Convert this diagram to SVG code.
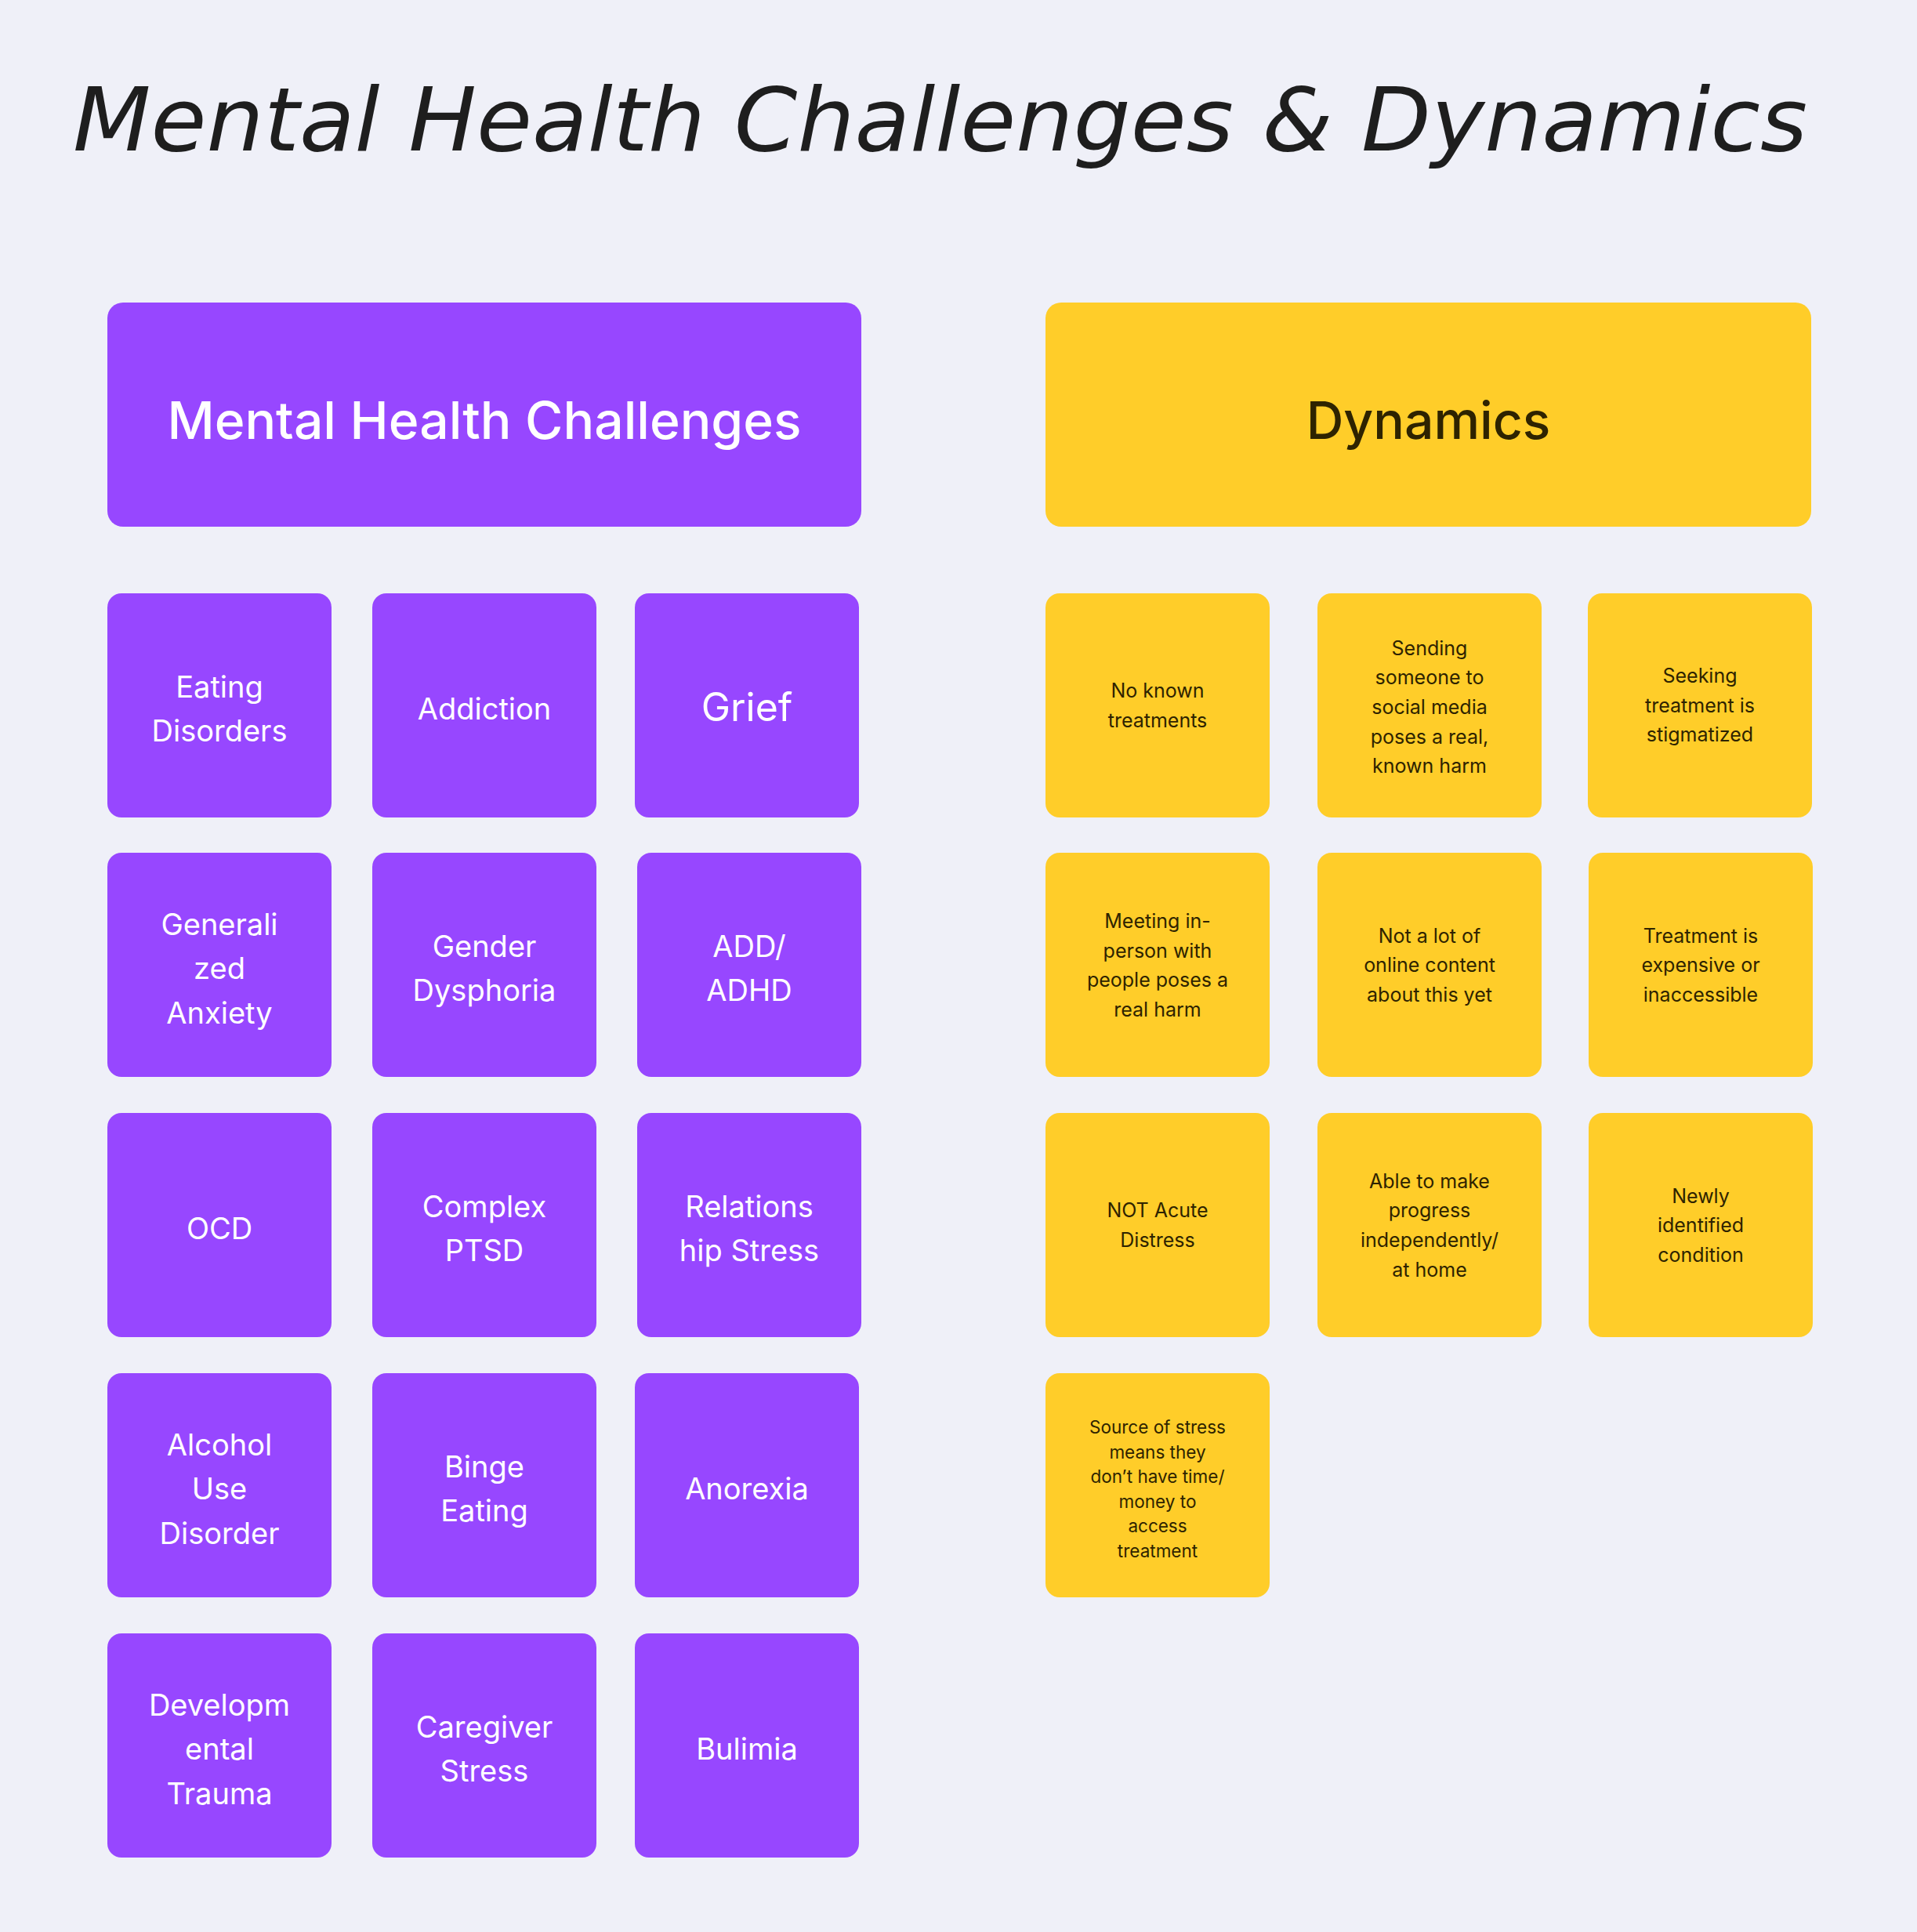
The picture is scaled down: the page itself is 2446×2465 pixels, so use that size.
<svg xmlns="http://www.w3.org/2000/svg" width="2446" height="2465" viewBox="0 0 2446 2465">
<style>
.bg{fill:#EFF0F8}
.p{fill:#9747FF}
.y{fill:#FFCD29}
.pt{font-family:Inter,"Liberation Sans",sans-serif;font-size:38px;fill:#FFFFFF;text-anchor:middle}
.yt{font-family:Inter,"Liberation Sans",sans-serif;font-size:25px;fill:#2E2300;text-anchor:middle}
.ys{font-family:Inter,"Liberation Sans",sans-serif;font-size:22.5px;fill:#2E2300;text-anchor:middle}
.h{font-family:Inter,"Liberation Sans",sans-serif;font-size:66px;font-weight:500;text-anchor:middle}
.title{font-family:"DejaVu Sans",sans-serif;font-style:oblique;font-size:112px;fill:#1E1E1E}
</style>
<rect class="bg" x="0" y="0" width="2446" height="2465"/>
<text class="title" x="93" y="192" textLength="2213" lengthAdjust="spacingAndGlyphs">Mental Health Challenges &amp; Dynamics</text>

<g id="header-challenges"><rect class="p" x="137" y="386" width="962" height="286" rx="20"/><text class="h" x="618" y="560" fill="#FFFFFF">Mental Health Challenges</text></g>
<g id="header-dynamics"><rect class="y" x="1334" y="386" width="977" height="286" rx="20"/><text class="h" x="1822.5" y="560" fill="#2E2300">Dynamics</text></g>

<g id="eating-disorders"><rect class="p" x="137" y="757" width="286" height="286" rx="18"/><text class="pt" x="280" y="889.5">Eating</text><text class="pt" x="280" y="946">Disorders</text></g>
<g id="addiction"><rect class="p" x="475" y="757" width="286" height="286" rx="18"/><text class="pt" x="618" y="917.5">Addiction</text></g>
<g id="grief"><rect class="p" x="810" y="757" width="286" height="286" rx="18"/><text class="pt" x="953" y="920" style="font-size:50px">Grief</text></g>

<g id="generalized-anxiety"><rect class="p" x="137" y="1088" width="286" height="286" rx="18"/><text class="pt" x="280" y="1192.5">Generali</text><text class="pt" x="280" y="1249">zed</text><text class="pt" x="280" y="1305.5">Anxiety</text></g>
<g id="gender-dysphoria"><rect class="p" x="475" y="1088" width="286" height="286" rx="18"/><text class="pt" x="618" y="1220.5">Gender</text><text class="pt" x="618" y="1277">Dysphoria</text></g>
<g id="add-adhd"><rect class="p" x="813" y="1088" width="286" height="286" rx="18"/><text class="pt" x="956" y="1220.5">ADD/</text><text class="pt" x="956" y="1277">ADHD</text></g>

<g id="ocd"><rect class="p" x="137" y="1420" width="286" height="286" rx="18"/><text class="pt" x="280" y="1580.5">OCD</text></g>
<g id="complex-ptsd"><rect class="p" x="475" y="1420" width="286" height="286" rx="18"/><text class="pt" x="618" y="1552.5">Complex</text><text class="pt" x="618" y="1609">PTSD</text></g>
<g id="relationship-stress"><rect class="p" x="813" y="1420" width="286" height="286" rx="18"/><text class="pt" x="956" y="1552.5">Relations</text><text class="pt" x="956" y="1609">hip Stress</text></g>

<g id="alcohol-use-disorder"><rect class="p" x="137" y="1752" width="286" height="286" rx="18"/><text class="pt" x="280" y="1856.5">Alcohol</text><text class="pt" x="280" y="1913">Use</text><text class="pt" x="280" y="1969.5">Disorder</text></g>
<g id="binge-eating"><rect class="p" x="475" y="1752" width="286" height="286" rx="18"/><text class="pt" x="618" y="1884.5">Binge</text><text class="pt" x="618" y="1941">Eating</text></g>
<g id="anorexia"><rect class="p" x="810" y="1752" width="286" height="286" rx="18"/><text class="pt" x="953" y="1912.5">Anorexia</text></g>

<g id="developmental-trauma"><rect class="p" x="137" y="2084" width="286" height="286" rx="18"/><text class="pt" x="280" y="2188.5">Developm</text><text class="pt" x="280" y="2245">ental</text><text class="pt" x="280" y="2301.5">Trauma</text></g>
<g id="caregiver-stress"><rect class="p" x="475" y="2084" width="286" height="286" rx="18"/><text class="pt" x="618" y="2216.5">Caregiver</text><text class="pt" x="618" y="2273">Stress</text></g>
<g id="bulimia"><rect class="p" x="810" y="2084" width="286" height="286" rx="18"/><text class="pt" x="953" y="2244.5">Bulimia</text></g>

<g id="no-known-treatments"><rect class="y" x="1334" y="757" width="286" height="286" rx="18"/><text class="yt" x="1477" y="890">No known</text><text class="yt" x="1477" y="927.7">treatments</text></g>
<g id="sending-social-media"><rect class="y" x="1681" y="757" width="286" height="286" rx="18"/><text class="yt" x="1824" y="835.6">Sending</text><text class="yt" x="1824" y="873.3">someone to</text><text class="yt" x="1824" y="911">social media</text><text class="yt" x="1824" y="948.7">poses a real,</text><text class="yt" x="1824" y="986.4">known harm</text></g>
<g id="seeking-treatment-stigmatized"><rect class="y" x="2026" y="757" width="286" height="286" rx="18"/><text class="yt" x="2169" y="871">Seeking</text><text class="yt" x="2169" y="908.7">treatment is</text><text class="yt" x="2169" y="946.4">stigmatized</text></g>

<g id="meeting-in-person"><rect class="y" x="1334" y="1088" width="286" height="286" rx="18"/><text class="yt" x="1477" y="1184">Meeting in-</text><text class="yt" x="1477" y="1221.7">person with</text><text class="yt" x="1477" y="1259.4">people poses a</text><text class="yt" x="1477" y="1297.1">real harm</text></g>
<g id="not-a-lot-online"><rect class="y" x="1681" y="1088" width="286" height="286" rx="18"/><text class="yt" x="1824" y="1202.5">Not a lot of</text><text class="yt" x="1824" y="1240.2">online content</text><text class="yt" x="1824" y="1277.9">about this yet</text></g>
<g id="treatment-expensive"><rect class="y" x="2027" y="1088" width="286" height="286" rx="18"/><text class="yt" x="2170" y="1202.5">Treatment is</text><text class="yt" x="2170" y="1240.2">expensive or</text><text class="yt" x="2170" y="1277.9">inaccessible</text></g>

<g id="not-acute-distress"><rect class="y" x="1334" y="1420" width="286" height="286" rx="18"/><text class="yt" x="1477" y="1553">NOT Acute</text><text class="yt" x="1477" y="1590.7">Distress</text></g>
<g id="progress-independently"><rect class="y" x="1681" y="1420" width="286" height="286" rx="18"/><text class="yt" x="1824" y="1515.5">Able to make</text><text class="yt" x="1824" y="1553.2">progress</text><text class="yt" x="1824" y="1590.9">independently/</text><text class="yt" x="1824" y="1628.6">at home</text></g>
<g id="newly-identified"><rect class="y" x="2027" y="1420" width="286" height="286" rx="18"/><text class="yt" x="2170" y="1534.5">Newly</text><text class="yt" x="2170" y="1572.2">identified</text><text class="yt" x="2170" y="1609.9">condition</text></g>

<g id="source-of-stress"><rect class="y" x="1334" y="1752" width="286" height="286" rx="18"/><text class="ys" x="1477" y="1829">Source of stress</text><text class="ys" x="1477" y="1860.6">means they</text><text class="ys" x="1477" y="1892.2">don’t have time/</text><text class="ys" x="1477" y="1923.8">money to</text><text class="ys" x="1477" y="1955.4">access</text><text class="ys" x="1477" y="1987">treatment</text></g>

<g id="connectors"></g>
</svg>
